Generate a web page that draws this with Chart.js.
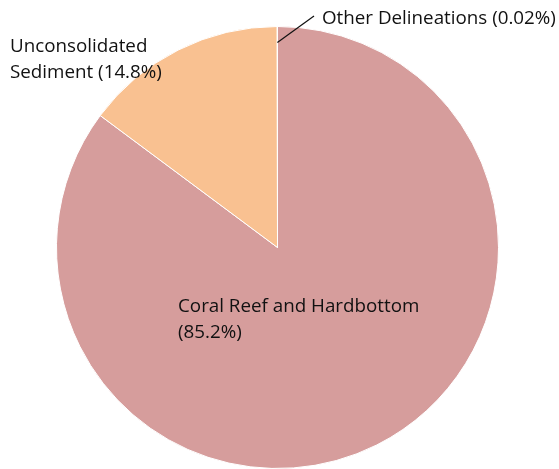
<!DOCTYPE html>
<html>
<head>
<meta charset="utf-8">
<script src="https://cdn.jsdelivr.net/npm/chart.js@4/dist/chart.umd.min.js"></script>
<style>
  html, body { margin: 0; padding: 0; background: #fff; }
  #wrap { width: 559px; height: 469px; }
</style>
</head>
<body>
<div id="wrap"><canvas id="myChart" width="559" height="469"></canvas></div>
<script>
const categories = ['Coral Reef and Hardbottom', 'Unconsolidated Sediment', 'Other Delineations'];
const shares = [85.2, 14.8, 0.02];
const sliceColors = ['#d69d9c', '#f9c191', '#f0e0d0'];

// label text lines and where they sit
const labelLines = [
  ['Coral Reef and Hardbottom', '(85.2%)'],
  ['Unconsolidated', 'Sediment (14.8%)'],
  ['Other Delineations (0.02%)']
];
const labelAnchors = [[178, 307], [10, 47], [322, 19]];

const labelPlugin = {
  id: 'sliceLabels',
  afterDatasetsDraw(chart) {
    const c = chart.ctx;
    c.save();
    c.font = '18.8px "Open Sans", sans-serif';
    c.fillStyle = '#111';
    c.textBaseline = 'middle';
    labelLines.forEach((lines, i) => {
      const [x, y] = labelAnchors[i];
      lines.forEach((t, j) => c.fillText(t, x, y + j * 26));
    });
    // leader line for the tiny slice
    const arc = chart.getDatasetMeta(0).data[2];
    const mid = (arc.startAngle + arc.endAngle) / 2;
    const r = arc.outerRadius - 16;
    c.strokeStyle = '#111';
    c.lineWidth = 1.2;
    c.beginPath();
    c.moveTo(arc.x + Math.cos(mid) * r, arc.y + Math.sin(mid) * r);
    c.lineTo(314, 16);
    c.stroke();
    c.restore();
  }
};

const ctxt = document.getElementById('myChart').getContext('2d');
const myChart = new Chart(ctxt, {
  type: 'pie',
  data: {
    labels: categories,
    datasets: [{
      data: shares,
      backgroundColor: sliceColors,
      borderColor: '#ffffff',
      borderWidth: 1
    }]
  },
  options: {
    responsive: false,
    animation: false,
    layout: { padding: { left: 56, right: 60, top: 26, bottom: 0 } },
    plugins: {
      legend: { display: false },
      tooltip: { enabled: false }
    }
  },
  plugins: [labelPlugin]
});
</script>
</body>
</html>
